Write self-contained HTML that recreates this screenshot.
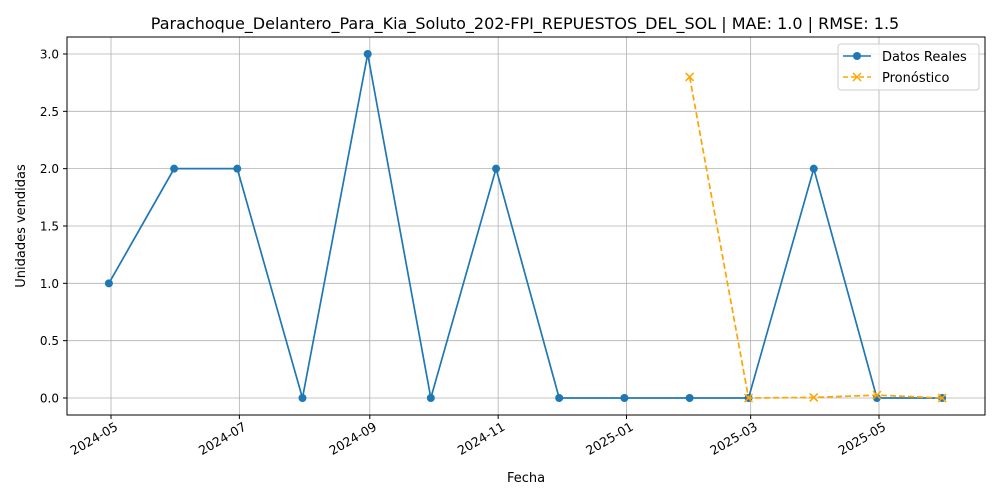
<!DOCTYPE html>
<html><head><meta charset="utf-8">
<style>
body{margin:0;background:#fff;}
svg{display:block;font-family:"DejaVu Sans","Liberation Sans",sans-serif;}
</style></head>
<body>
<svg id="chart" width="1000" height="500">
<rect width="1000" height="500" fill="#fff"/>
<text x="525" y="29" font-size="16" text-anchor="middle">Parachoque_Delantero_Para_Kia_Soluto_202-FPI_REPUESTOS_DEL_SOL | MAE: 1.0 | RMSE: 1.5</text>
<g id="grid"></g>
<g id="axes"></g>
<g id="series"></g>
<rect x="67" y="37" width="918" height="378" fill="none" stroke="#000" stroke-width="1"/>
<text x="526" y="482" font-size="13" text-anchor="middle">Fecha</text>
<text transform="translate(25,226) rotate(-90)" font-size="13" text-anchor="middle">Unidades vendidas</text>
<g>
<rect x="838" y="44" width="141" height="46" rx="3" fill="#fff" fill-opacity="0.8" stroke="#ccc"/>
<line x1="843" y1="56" x2="871" y2="56" stroke="#1f77b4" stroke-width="1.5"/>
<circle cx="857" cy="56" r="4" fill="#1f77b4"/>
<text x="882" y="61" font-size="13">Datos Reales</text>
<line x1="843" y1="77" x2="871" y2="77" stroke="orange" stroke-width="1.5" stroke-dasharray="5,3"/>
<path d="M853,73 l8,8 M861,73 l-8,8" stroke="orange" stroke-width="1.5"/>
<text x="882" y="82" font-size="13">Pronóstico</text>
</g>
</svg>
<script>
const actualDates=["2024-04-30","2024-05-31","2024-06-30","2024-07-31","2024-08-31","2024-09-30","2024-10-31","2024-11-30","2024-12-31","2025-01-31","2025-02-28","2025-03-31","2025-04-30","2025-05-31"];
const actualValues=[1,2,2,0,3,0,2,0,0,0,0,2,0,0];
const forecastDates=["2025-01-31","2025-02-28","2025-03-31","2025-04-30","2025-05-31"];
const forecastValues=[2.8,0.0,0.005,0.025,0.0];
const xTicks=["2024-05-01","2024-07-01","2024-09-01","2024-11-01","2025-01-01","2025-03-01","2025-05-01"];
const xTickLabels=["2024-05","2024-07","2024-09","2024-11","2025-01","2025-03","2025-05"];
const yTicks=[0,0.5,1,1.5,2,2.5,3];

const NS="http://www.w3.org/2000/svg";
const d0=Date.parse("2024-05-01"), d1=Date.parse("2025-05-01");
function xs(d){return 111+(Date.parse(d)-d0)/(d1-d0)*768;}
function ys(v){return 398-v*114.67;}
function mk(tag,attrs,parent){const e=document.createElementNS(NS,tag);for(const k in attrs)e.setAttribute(k,attrs[k]);parent.appendChild(e);return e;}
const grid=document.getElementById('grid'),axes=document.getElementById('axes'),series=document.getElementById('series');
yTicks.forEach(v=>{
  const y=ys(v);
  const g=mk('line',{x1:67,x2:985,y1:y,y2:y,stroke:'#b0b0b0','stroke-width':0.8},grid);
  
  
  mk('line',{x1:63,x2:67,y1:y,y2:y,stroke:'#000'},axes);
  const t=mk('text',{x:59,y:y+4.5,'font-size':12,'text-anchor':'end'},axes);
  t.textContent=v.toFixed(1);
  
  
});
xTicks.forEach((d,i)=>{
  const x=xs(d);
  const g=mk('line',{x1:x,x2:x,y1:37,y2:415,stroke:'#b0b0b0','stroke-width':0.8},grid);
  
  
  mk('line',{x1:x,x2:x,y1:415,y2:419,stroke:'#000'},axes);
  const t=mk('text',{transform:`translate(${x+3},${421}) rotate(-30)`,'font-size':12.5,'text-anchor':'end','dominant-baseline':'hanging'},axes);
  t.textContent=xTickLabels[i];
  
  
});
const ap=mk('polyline',{points:actualDates.map((d,i)=>xs(d)+','+ys(actualValues[i])).join(' '),fill:'none',stroke:'#1f77b4','stroke-width':1.7},series);


actualDates.forEach((d,i)=>{
  const c=mk('circle',{cx:xs(d),cy:ys(actualValues[i]),r:4,fill:'#1f77b4'},series);
  
  
});
const fp=mk('polyline',{points:forecastDates.map((d,i)=>xs(d)+','+ys(forecastValues[i])).join(' '),fill:'none',stroke:'orange','stroke-width':1.7,'stroke-dasharray':'6,3'},series);


forecastDates.forEach((d,i)=>{
  const x=xs(d),y=ys(forecastValues[i]);
  const p=mk('path',{d:`M${x-4},${y-4} L${x+4},${y+4} M${x+4},${y-4} L${x-4},${y+4}`,stroke:'orange','stroke-width':1.5},series);
  
  
});
</script>
</body></html>
